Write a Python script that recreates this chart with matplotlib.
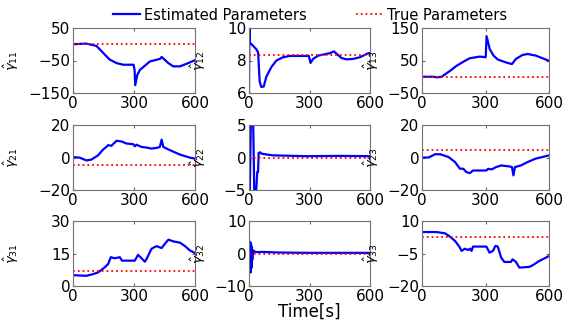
# -*- coding: utf-8 -*-
import matplotlib.pyplot as plt

# time stamps [s] and estimated parameters
t11 = [0, 66, 115, 180, 214, 247, 298, 303, 306, 316, 329, 378, 428, 436, 469, 493, 526, 559, 600]
g11 = [0, 2, -5, -47, -58, -63, -63, -80, -126, -95, -79, -53, -45, -39, -58, -68, -68, -60, -49]

t12 = [0, 2, 5, 28, 36, 45, 53, 61, 73, 86, 111, 136, 169, 202, 297, 305, 318, 343, 401, 421, 434, 459, 484, 517, 550, 592, 600]
g12 = [6.0, 10.0, 9.1, 8.8, 8.7, 8.5, 6.7, 6.37, 6.4, 7.0, 7.6, 8.0, 8.2, 8.28, 8.28, 7.85, 8.1, 8.3, 8.45, 8.56, 8.42, 8.15, 8.07, 8.1, 8.2, 8.45, 8.45]

t13 = [0, 55, 70, 93, 132, 164, 203, 226, 273, 301, 305, 320, 338, 358, 397, 425, 444, 475, 499, 538, 569, 600]
g13 = [0, 0, -2, 0, 18, 34, 49, 57, 62, 60, 125, 85, 65, 53, 44, 39, 55, 67, 70, 65, 57, 49]

t21 = [0, 33, 66, 90, 123, 148, 164, 173, 189, 214, 238, 263, 296, 304, 312, 337, 362, 386, 411, 427, 436, 444, 477, 526, 575, 600]
g21 = [0.3, -0.1, -1.8, -1.3, 1.3, 4.9, 6.5, 7.6, 7.2, 10.3, 9.9, 8.6, 8.2, 6.9, 7.9, 6.5, 6.1, 5.5, 5.9, 6.5, 11.0, 6.5, 4.5, 1.8, -0.1, -0.7]

t22 = [0, 4, 9, 15, 21, 26, 32, 36, 41, 45, 48, 55, 61, 90, 119, 285, 450, 600]
g22 = [1.1, -5, 5, 5, 5, -5, -5, -5, -2.2, -2.2, 0.7, 0.8, 0.6, 0.45, 0.33, 0.2, 0.25, 0.2]

t23 = [0, 31, 62, 86, 125, 156, 179, 195, 210, 226, 241, 304, 312, 330, 350, 374, 413, 425, 432, 439, 467, 499, 537, 569, 600]
g23 = [0, 0, 2, 2, 0.3, -2.8, -6.9, -6.9, -9, -9.6, -8, -8, -7, -7.3, -5.9, -4.9, -5.5, -5.9, -11, -5.9, -4.9, -2.8, -0.7, 0.3, 1.3]

t31 = [0, 66, 99, 123, 156, 173, 186, 205, 230, 241, 304, 320, 337, 353, 362, 386, 411, 436, 452, 469, 493, 526, 551, 575, 600]
g31 = [5, 4.7, 5.5, 6.25, 8.6, 10.2, 13.3, 12.8, 13.3, 11.7, 11.7, 14.4, 12.8, 11.2, 12.5, 17.2, 18.4, 17.5, 19.5, 21.4, 20.6, 20, 18.4, 16.4, 15.2]

t32 = [0, 2, 4, 6, 8, 10, 12, 14, 16, 20, 30, 45, 60, 150, 300, 450, 600]
g32 = [0, 3.5, -5.8, 3.5, -5.8, 3.0, -4.5, 2.0, -2.0, 1.0, 0.5, 0.4, 0.5, 0.3, 0.2, 0.2, 0.2]

t33 = [0, 70, 109, 132, 156, 176, 187, 202, 218, 226, 234, 241, 304, 319, 335, 347, 358, 374, 389, 420, 428, 444, 460, 506, 522, 553, 600]
g33 = [4.9, 4.9, 4.3, 2.8, 0.8, -1.8, -3.8, -2.8, -3.4, -2.8, -3.8, -1.8, -1.8, -4.6, -3.8, -1.5, -1.8, -6.9, -8.9, -8.9, -7.7, -8.9, -11.5, -11.2, -10.5, -8.5, -6.2]

times = [t11, t12, t13, t21, t22, t23, t31, t32, t33]
estimates = [g11, g12, g13, g21, g22, g23, g31, g32, g33]
true_vals = [0, 8.32, 0, -4.5, 0, 4.5, 7, 0, 2.6]
names = ['11', '12', '13', '21', '22', '23', '31', '32', '33']
yticks = [[-150, -50, 50], [6, 8, 10], [-50, 50, 150],
          [-20, 0, 20], [-5, 0, 5], [-20, 0, 20],
          [0, 15, 30], [-10, 0, 10], [-20, -5, 10]]
xticks = [0, 300, 600]

plt.rcParams['font.family'] = 'DejaVu Sans'
fig = plt.figure(figsize=(5.68, 3.2), dpi=100)

W, H = 568.0, 320.0
lefts = [73, 249, 422]
widths = [122, 121, 127]
tops = [28, 125, 221]
hgt = 65
ylab_x = [-0.43, -0.34, -0.32]

axes = []
for i in range(9):
    r, c = divmod(i, 3)
    ax = fig.add_axes([lefts[c] / W, 1 - (tops[r] + hgt) / H, widths[c] / W, hgt / H])
    l1, = ax.plot(times[i], estimates[i], color='#0000ff', lw=1.6)
    l2, = ax.plot(xticks[::2], [true_vals[i]] * 2, color='#ff0000', lw=1.3, ls=':')
    ax.set_xlim(0, 600)
    ax.set_ylim(yticks[i][0], yticks[i][-1])
    ax.set_xticks(xticks)
    ax.set_yticks(yticks[i])
    ax.tick_params(direction='in', length=2, labelsize=11, top=True, right=True,
                   color='0.4', pad=2)
    for s in ax.spines.values():
        s.set_color('0.45')
        s.set_linewidth(0.8)
    ax.set_ylabel(r'$\hat{\gamma}_{' + names[i] + '}$', fontsize=9.5)
    ax.yaxis.set_label_coords(ylab_x[c], 0.5)
    axes.append(ax)

axes[7].set_xlabel('Time[s]', fontsize=12, labelpad=-1)

fig.legend([l1, l2], ['Estimated Parameters', 'True Parameters'],
           loc='center', bbox_to_anchor=(0.546, 0.953), ncol=2, frameon=False,
           fontsize=10.5, handlelength=1.8, handletextpad=0.3, columnspacing=3.4)

fig.savefig('out.png', dpi=100)
